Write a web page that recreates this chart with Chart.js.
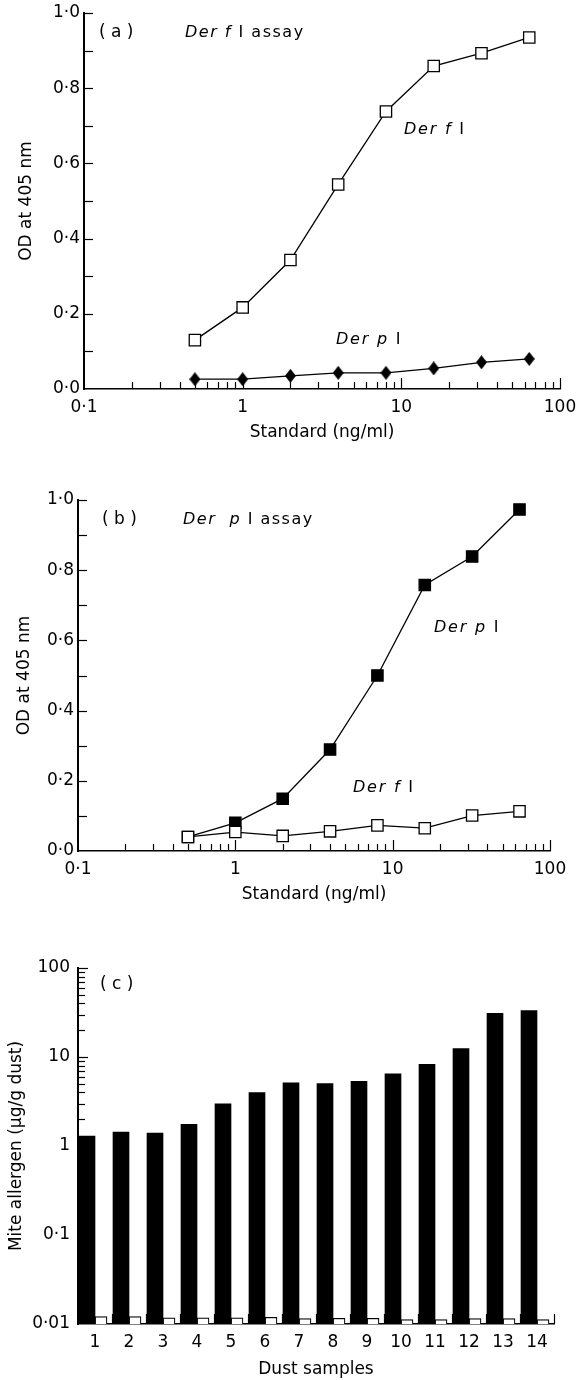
<!DOCTYPE html>
<html><head><meta charset="utf-8">
<script src="https://cdn.jsdelivr.net/npm/chart.js@4.4.1/dist/chart.umd.min.js"></script>
<style>
html,body{margin:0;padding:0;background:#fff;width:576px;height:1380px;overflow:hidden}
canvas{position:absolute;left:0}
</style></head><body>
<canvas id="cA" width="576" height="450" style="top:0px"></canvas>
<canvas id="cB" width="576" height="460" style="top:450px"></canvas>
<canvas id="cC" width="576" height="470" style="top:910px"></canvas>
<script>
// ---------- data ----------
const doses = [0.5, 1, 2, 4, 8, 16, 32, 64];
const assayF_derF = [0.130, 0.217, 0.343, 0.544, 0.738, 0.859, 0.893, 0.935];
const assayF_derP = [0.026, 0.026, 0.035, 0.043, 0.043, 0.055, 0.071, 0.080];
const assayP_derP = [0.040, 0.080, 0.149, 0.289, 0.500, 0.758, 0.839, 0.973];
const assayP_derF = [0.040, 0.054, 0.043, 0.056, 0.073, 0.065, 0.101, 0.113];

const dustSamples = ['1','2','3','4','5','6','7','8','9','10','11','12','13','14'];
const dustDerP = [1.29, 1.43, 1.40, 1.75, 2.97, 3.98, 5.12, 5.03, 5.34, 6.47, 8.25, 12.4, 31.0, 33.2];
const dustDerF = [0.0121, 0.0121, 0.0117, 0.0117, 0.0117, 0.0119, 0.0115, 0.0116, 0.0116, 0.0112, 0.0112, 0.0115, 0.0115, 0.0112];

const odTickValues = [0, 0.2, 0.4, 0.6, 0.8, 1.0];
const odTickLabels = ['0·0', '0·2', '0·4', '0·6', '0·8', '1·0'];
const odMinorValues = [0.1, 0.3, 0.5, 0.7, 0.9];
const doseTickValues = [0.1, 1, 10, 100];
const doseTickLabels = ['0·1', '1', '10', '100'];
const allergenTickValues = [0.01, 0.1, 1, 10, 100];
const allergenTickLabels = ['0·01', '0·1', '1', '10', '100'];

// ---------- helpers ----------
const FONT = '"DejaVu Sans"';
Chart.defaults.font.family = FONT;
Chart.defaults.font.size = 17;
Chart.defaults.color = '#000';

function logMinors(lo, hi) { // 2..9 x 10^k between lo and hi decades
  const out = [];
  for (let k = lo; k < hi; k++) for (let m = 2; m <= 9; m++) out.push(m * Math.pow(10, k));
  return out;
}

function setTicks(values) { return s => { s.ticks = values.map(v => ({ value: v })); }; }
function fixY(w) { return s => { s.width = w; s.paddingTop = 0; s.paddingBottom = 0; }; }
function fixX(h) { return s => { s.height = h; s.paddingLeft = 0; s.paddingRight = 0; }; }

function inwardTicks(spec) {
  return {
    id: 'inwardTicks',
    afterDatasetsDraw(chart) {
      const ctx = chart.ctx, a = chart.chartArea;
      const xs = chart.scales.x, ys = chart.scales.y;
      ctx.save();
      ctx.strokeStyle = '#000';
      ctx.lineWidth = 1.2;
      spec.x.forEach(([v, len]) => {
        const px = Math.round(spec.xPix ? spec.xPix(xs, v) : xs.getPixelForValue(v)) + 0.5;
        ctx.beginPath(); ctx.moveTo(px, a.bottom); ctx.lineTo(px, a.bottom - len); ctx.stroke();
      });
      spec.y.forEach(([v, len]) => {
        const py = Math.round(ys.getPixelForValue(v)) + 0.5;
        ctx.beginPath(); ctx.moveTo(a.left, py); ctx.lineTo(a.left + len, py); ctx.stroke();
      });
      ctx.restore();
    }
  };
}

function annotations(items, top) {
  return {
    id: 'annot',
    afterDraw(chart) {
      const ctx = chart.ctx;
      ctx.save();
      ctx.fillStyle = '#000';
      ctx.textBaseline = 'middle';
      items.forEach(it => {
        let x = it.x;
        const y = it.y - top;
        ctx.letterSpacing = it.ls || '0px';
        it.parts.forEach(([t, ital]) => {
          ctx.font = (ital ? 'italic ' : '') + it.size + 'px ' + FONT;
          ctx.fillText(t, x, y);
          x += ctx.measureText(t).width;
        });
      });
      ctx.restore();
    }
  };
}

const diamond = (() => {
  const c = document.createElement('canvas');
  c.width = 11; c.height = 14;
  const g = c.getContext('2d');
  g.fillStyle = '#000';
  g.beginPath(); g.moveTo(5.5, 0); g.lineTo(11, 7); g.lineTo(5.5, 14); g.lineTo(0, 7); g.closePath(); g.fill();
  return c;
})();

function pts(xs, ys) { return xs.map((x, i) => ({ x, y: ys[i] })); }

function lineDataset(label, values, filled, style) {
  return {
    label, data: pts(doses, values),
    borderColor: '#000', borderWidth: 1.3, tension: 0,
    pointStyle: style || 'rect', pointRadius: 8, pointHoverRadius: 8,
    pointBackgroundColor: filled ? '#000' : '#fff', pointBorderColor: '#000', pointBorderWidth: 1.3
  };
}

function doseAxes(yWidth, xHeight, yTitlePad, xTitlePad, yLabelPad) {
  return {
    x: {
      type: 'logarithmic', min: 0.1, max: 100,
      grid: { display: false, drawTicks: false },
      border: { display: true, color: '#000', width: 1.5 },
      ticks: { autoSkip: false, maxRotation: 0, padding: 8, callback: (v, i) => doseTickLabels[i] },
      title: { display: true, text: 'Standard (ng/ml)', font: { size: 17 }, padding: { top: 0, bottom: xTitlePad } },
      afterBuildTicks: setTicks(doseTickValues),
      afterFit: fixX(xHeight)
    },
    y: {
      type: 'linear', min: 0, max: 1,
      grid: { display: false, drawTicks: false },
      border: { display: true, color: '#000', width: 2 },
      ticks: { autoSkip: false, padding: yLabelPad, callback: (v, i) => odTickLabels[i] },
      title: { display: true, text: 'OD at 405 nm', font: { size: 17 }, padding: { top: yTitlePad, bottom: 0 } },
      afterBuildTicks: setTicks(odTickValues),
      afterFit: fixY(yWidth)
    }
  };
}

const doseTickSpec = {
  x: [...doseTickValues.slice(1).map(v => [v, 11]), ...logMinors(-1, 2).map(v => [v, 7])],
  y: [...odTickValues.slice(1).map(v => [v, 9]), ...odMinorValues.map(v => [v, 9])]
};

const common = {
  responsive: false, animation: false, events: [],
  plugins: { legend: { display: false }, tooltip: { enabled: false } }
};

// ---------- panel (a) ----------
new Chart(document.getElementById('cA'), {
  type: 'line',
  data: { datasets: [
    lineDataset('Der f I', assayF_derF, false),
    lineDataset('Der p I', assayF_derP, true, diamond)
  ] },
  options: Object.assign({}, common, {
    layout: { padding: { left: 0, right: 16, top: 13, bottom: 0 } },
    scales: doseAxes(84, 61, 16, 7, 4)
  }),
  plugins: [inwardTicks(doseTickSpec), annotations([
    { x: 99, y: 33, size: 17, parts: [['( a )', false]] },
    { x: 185, y: 33, size: 16, ls: '1.5px', parts: [['Der f', true], [' I assay', false]] },
    { x: 404, y: 130, size: 16, ls: '1.8px', parts: [['Der f', true], [' I', false]] },
    { x: 336, y: 340, size: 16, ls: '1.8px', parts: [['Der p', true], [' I', false]] }
  ], 0)]
});

// ---------- panel (b) ----------
new Chart(document.getElementById('cB'), {
  type: 'line',
  data: { datasets: [
    lineDataset('Der f I', assayP_derF, false),
    lineDataset('Der p I', assayP_derP, true)
  ] },
  options: Object.assign({}, common, {
    layout: { padding: { left: 0, right: 26, top: 50, bottom: 0 } },
    scales: doseAxes(78, 59, 14, 5, 4)
  }),
  plugins: [inwardTicks(doseTickSpec), annotations([
    { x: 102, y: 520, size: 17, parts: [['( b )', false]] },
    { x: 183, y: 520, size: 16, ls: '1.5px', parts: [['Der  p', true], [' I assay', false]] },
    { x: 434, y: 628, size: 16, ls: '1.8px', parts: [['Der p', true], [' I', false]] },
    { x: 353, y: 788, size: 16, ls: '1.8px', parts: [['Der f', true], [' I', false]] }
  ], 450)]
});

// ---------- panel (c) ----------
new Chart(document.getElementById('cC'), {
  type: 'bar',
  data: {
    labels: dustSamples,
    datasets: [
      { label: 'Der p I', data: dustDerP, backgroundColor: '#000', borderWidth: 0, barThickness: 16 },
      { label: 'Der f I', data: dustDerF, backgroundColor: '#fff', borderColor: '#000', borderWidth: 1.2, barThickness: 12 }
    ]
  },
  options: Object.assign({}, common, {
    layout: { padding: { left: 0, right: 22, top: 58, bottom: 0 } },
    scales: {
      x: {
        type: 'category', offset: true,
        grid: { display: false, drawTicks: false },
        border: { display: true, color: '#000', width: 1.5 },
        ticks: { autoSkip: false, maxRotation: 0, padding: 8 },
        title: { display: true, text: 'Dust samples', font: { size: 17 }, padding: { top: 0, bottom: 0 } },
        afterFit: fixX(56)
      },
      y: {
        type: 'logarithmic', min: 0.01, max: 100,
        grid: { display: false, drawTicks: false },
        border: { display: true, color: '#000', width: 2 },
        ticks: { autoSkip: false, padding: 8, callback: (v, i) => allergenTickLabels[i] },
        title: { display: true, text: 'Mite allergen (µg/g dust)', font: { size: 17 }, padding: { top: 6, bottom: 0 } },
        afterBuildTicks: setTicks(allergenTickValues),
        afterFit: fixY(78)
      }
    }
  }),
  plugins: [inwardTicks({
    x: dustSamples.map((_, i) => [i, 10]),
    xPix: (s, i) => (s.getPixelForValue(i) + s.getPixelForValue(i + 1)) / 2,
    y: [...allergenTickValues.slice(1).map(v => [v, 10]), ...logMinors(-2, 2).map(v => [v, 7])]
  }), annotations([
    { x: 100, y: 985, size: 17, parts: [['( c )', false]] }
  ], 910)]
});
</script>
</body></html>
